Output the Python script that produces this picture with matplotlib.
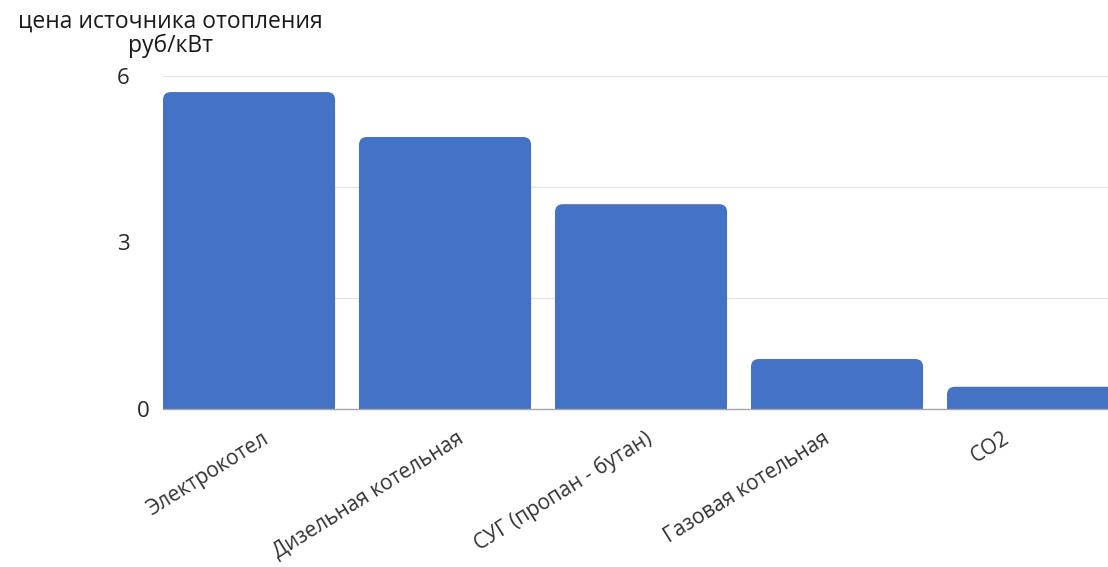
import matplotlib
matplotlib.use('Agg')
import matplotlib.pyplot as plt
import matplotlib.transforms as mtransforms
from matplotlib.patches import FancyBboxPatch

# data
categories = ['Электрокотел', 'Дизельная котельная', 'СУГ (пропан - бутан)',
              'Газовая котельная', 'СО2']
prices = [5.71, 4.90, 3.69, 0.90, 0.40]
ytick_values = [0, 3, 6]
grid_values = [2, 4, 6]
title = 'цена источника отопления\nруб/кВт'

plt.rcParams['font.family'] = ['Open Sans', 'DejaVu Sans']

bar_color = '#4472c4'
bar_width = 0.878
# horizontal nudge of each rotated label end, px (reference places them unevenly)
label_nudge = [18, 17, 9, -9, -25]

fig = plt.figure(figsize=(11.08, 5.67), dpi=100)
ax = fig.add_axes([0.1471, 0.2787, 0.8529, 0.5873])

x = range(len(categories))
bars = ax.bar(x, prices, width=bar_width, color=bar_color, zorder=3)

# rounded top corners: round box over full height, square bar for the lower part
r_x = 0.04
aspect = 3.6
r_y = r_x * aspect
for b in bars:
    h = b.get_height()
    rounded = FancyBboxPatch((b.get_x(), 0), b.get_width(), h,
                             boxstyle='round,pad=0,rounding_size=%f' % r_x,
                             mutation_aspect=aspect, facecolor=bar_color,
                             edgecolor='none', zorder=3)
    ax.add_patch(rounded)
    b.set_height(max(h - r_y, 0))

ax.set_xlim(-bar_width / 2, -bar_width / 2 + 945 / 196)
ax.set_ylim(0, 6)

for g in grid_values:
    ax.axhline(g, color='#e3e3e3', linewidth=0.9, zorder=0)

ax.set_yticks(ytick_values)
ax.set_yticklabels([str(v) for v in ytick_values])
ax.tick_params(axis='y', length=0, pad=24, labelsize=16, labelcolor='#262626')

# the zero label sits further right in the reference
zero_lbl = ax.get_yticklabels()[0]
zero_lbl.set_transform(zero_lbl.get_transform() +
                       mtransforms.ScaledTranslation(20 / 100, 0, fig.dpi_scale_trans))

ax.set_xticks(list(x))
ax.set_xticklabels(categories, rotation=32, ha='right', va='center',
                   rotation_mode='anchor', fontsize=15, color='#333333')
ax.tick_params(axis='x', length=0, pad=20)
for lbl, dx in zip(ax.get_xticklabels(), label_nudge):
    lbl.set_transform(lbl.get_transform() +
                      mtransforms.ScaledTranslation(dx / 100, 0, fig.dpi_scale_trans))

for side in ['top', 'right', 'left']:
    ax.spines[side].set_visible(False)
ax.spines['bottom'].set_color('#a6a6a6')
ax.spines['bottom'].set_linewidth(1.0)
ax.spines['bottom'].set_zorder(4)

fig.text(170 / 1108, 1 - 34 / 567, title, ha='center', va='center',
         fontsize=16.5, fontweight=500, color='#1a1a1a', linespacing=1.0)

fig.savefig('out.png', dpi=100)
